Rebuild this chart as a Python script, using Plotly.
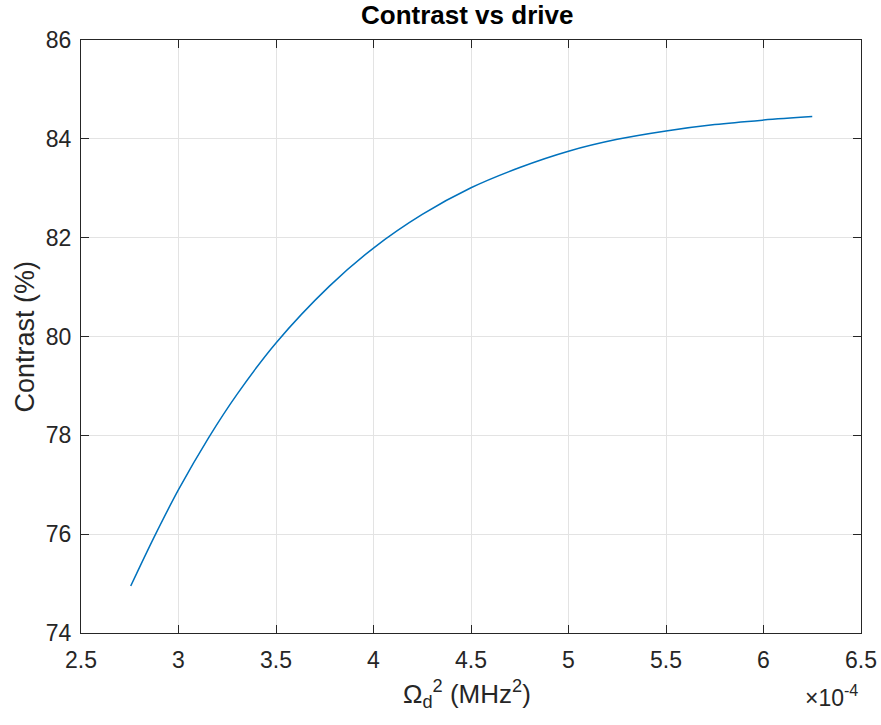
import plotly.graph_objects as go

# Data (x in MHz^2; axis shown in units of 1e-4)
drive_sq = [2.755e-4, 2.88e-4, 3.0e-4, 3.154e-4, 3.3e-4, 3.5e-4, 3.774e-4, 4.0e-4,
            4.25e-4, 4.5e-4, 4.75e-4, 5.0e-4, 5.25e-4, 5.5e-4, 5.75e-4, 6.0e-4, 6.25e-4]
contrast = [74.95, 75.98, 76.9, 77.95, 78.83, 79.87, 81.02, 81.79,
            82.47, 83.01, 83.42, 83.75, 83.99, 84.16, 84.29, 84.38, 84.45]

x_tickvals = [2.5e-4, 3e-4, 3.5e-4, 4e-4, 4.5e-4, 5e-4, 5.5e-4, 6e-4, 6.5e-4]
x_ticktext = ["2.5", "3", "3.5", "4", "4.5", "5", "5.5", "6", "6.5"]
y_tickvals = [74, 76, 78, 80, 82, 84, 86]

title_text = "<b>Contrast vs drive</b>"
x_title = "Ω<sub>d</sub><sup>2</sup> (MHz<sup>2</sup>)"
y_title = "Contrast (%)"
exponent_text = "×10<sup>-4</sup>"

FONT = "Liberation Sans, Arial, Helvetica, sans-serif"
AXC = "#262626"

fig = go.Figure()
fig.add_trace(go.Scatter(x=drive_sq, y=contrast, mode="lines",
                         line=dict(color="#0072BD", width=1.5, shape="spline"),
                         showlegend=False, hoverinfo="skip"))

axis_common = dict(showline=True, linecolor=AXC, linewidth=1, mirror="allticks",
                   ticks="inside", ticklen=8, tickcolor=AXC, tickwidth=1,
                   showgrid=True, gridcolor="#e3e3e3", gridwidth=1, zeroline=False,
                   automargin=False,
                   tickfont=dict(family=FONT, size=23, color=AXC))

fig.update_xaxes(range=[2.5e-4, 6.5e-4], tickvals=x_tickvals, ticktext=x_ticktext,
                 ticklabelstandoff=6, **axis_common)
fig.update_yaxes(range=[74, 86], tickvals=y_tickvals, ticklabelstandoff=4,
                 **axis_common)

fig.update_layout(
    width=881, height=725,
    margin=dict(l=81, r=20, t=40, b=92),
    paper_bgcolor="white", plot_bgcolor="white",
    hovermode=False,
    annotations=[
        dict(text=title_text, xref="paper", yref="paper", x=0.4955, y=1.042,
             xanchor="center", yanchor="middle", showarrow=False,
             font=dict(family=FONT, size=26, color="black")),
        dict(text=y_title, xref="paper", yref="paper", x=-0.073, y=0.5,
             xanchor="center", yanchor="middle", textangle=-90, showarrow=False,
             font=dict(family=FONT, size=27, color=AXC)),
        dict(text=x_title, xref="paper", yref="paper", x=0.4955, y=-0.1029,
             xanchor="center", yanchor="middle", showarrow=False,
             font=dict(family=FONT, size=26, color=AXC)),
        dict(text=exponent_text, xref="paper", yref="paper", x=0.9987, y=-0.106,
             xanchor="right", yanchor="middle", showarrow=False,
             font=dict(family=FONT, size=23, color=AXC)),
    ],
)

# remove the browser's default 8px body margin so the figure fills the window
fig.write_html("out.html", config={"displayModeBar": False},
               post_script="document.body.style.margin='0px';")
